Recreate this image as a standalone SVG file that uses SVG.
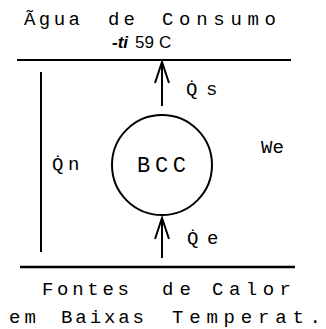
<svg xmlns="http://www.w3.org/2000/svg" width="326" height="329" viewBox="0 0 326 329">
<defs>
<style>
.mono{font-family:"Liberation Mono","DejaVu Sans Mono",monospace;font-size:19px;fill:#000}
.big{font-size:22px}
.sans{font-family:"Liberation Sans",Arial,sans-serif;font-size:17px;fill:#000}
.ln{stroke:#000;fill:none}
</style>
<marker id="ah" markerUnits="userSpaceOnUse" markerWidth="30" markerHeight="30" refX="0" refY="0" viewBox="-25 -15 30 30" orient="auto" overflow="visible">
<path d="M-21,-7 L0,0 L-21,7" fill="none" stroke="#000" stroke-width="2"/>
</marker>
</defs>
<rect width="326" height="329" fill="#fff"/>
<g id="top-label">
<text class="mono" x="24" y="25" textLength="56" lengthAdjust="spacing">Ãgua</text>
<text class="mono" x="108" y="25" textLength="27" lengthAdjust="spacing">de</text>
<text class="mono" x="162" y="25" textLength="114" lengthAdjust="spacing">Consumo</text>
<text class="sans" x="112" y="48" font-weight="bold" font-style="italic">-ti</text>
<text class="sans" x="135" y="48">59</text>
<text class="sans" x="159" y="48">C</text>
</g>
<g id="bottom-label">
<text class="mono" x="42" y="295" textLength="87" lengthAdjust="spacing">Fontes</text>
<text class="mono" x="162" y="295" textLength="29" lengthAdjust="spacing">de</text>
<text class="mono" x="212" y="295" textLength="79" lengthAdjust="spacing">Calor</text>
<text class="mono" x="9" y="323" textLength="27" lengthAdjust="spacing">em</text>
<text class="mono" x="61" y="323" textLength="83" lengthAdjust="spacing">Baixas</text>
<text class="mono" x="172" y="323" textLength="149" lengthAdjust="spacing">Temperat.</text>
</g>
<g id="bcc">
<circle cx="162" cy="165" r="50" class="ln" stroke-width="2"/>
<text class="mono big" x="137" y="172" textLength="49" lengthAdjust="spacing">BCC</text>
</g>
<g id="we">
<text class="mono" x="261" y="153">We</text>
</g>
<g id="connectors">
<line class="ln" x1="17" y1="60" x2="291" y2="60" stroke-width="2"/>
<line class="ln" x1="20" y1="267" x2="295" y2="267" stroke-width="2.5"/>
<line class="ln" x1="41" y1="72" x2="41" y2="252" stroke-width="2"/>
<line class="ln" x1="162" y1="106" x2="162" y2="62" stroke-width="2" marker-end="url(#ah)"/>
<line class="ln" x1="162" y1="258" x2="162" y2="218" stroke-width="2" marker-end="url(#ah)"/>
</g>
<g id="labels">
<text class="mono" y="95"><tspan x="186">Q̇</tspan><tspan x="206">s</tspan></text>
<text class="mono" y="244"><tspan x="187">Q̇</tspan><tspan x="207">e</tspan></text>
<text class="mono" y="170"><tspan x="52">Q̇</tspan><tspan x="68">n</tspan></text>
</g>
</svg>
